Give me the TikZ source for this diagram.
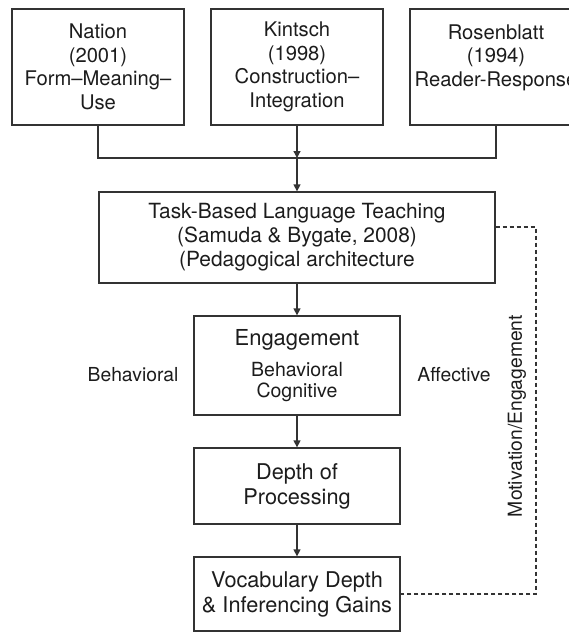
\documentclass[tikz,border=0pt]{standalone}
\usepackage{fontspec}
\setmainfont{TeX Gyre Heros}
\usetikzlibrary{arrows.meta}
\definecolor{figLine}{HTML}{333333}
\definecolor{figText}{HTML}{1c1c1c}
\begin{document}
\begin{tikzpicture}[x=1pt,y=-1pt]
    \pgfmathsetmacro{\bw}{172}
    \pgfmathsetmacro{\cw}{206}
    \tikzset{
        box/.style={draw=figLine,line width=1.3pt,text=figText,align=center,inner sep=0pt},
        arr/.style={draw=figLine,line width=1.3pt,-{Triangle[length=7pt,width=7pt]}},
        link/.style={draw=figLine,line width=1.3pt},
        dashlink/.style={draw=figLine,line width=1.1pt,dash pattern=on 4pt off 3pt},
        side/.style={text=figText,inner sep=0pt,font=\fontsize{19.3}{22}\selectfont}
    }
    \useasboundingbox (0,0) rectangle (569,633);
    \foreach \nm/\cx/\txt in {nation/98/{Nation\\(2001)\\Form–Meaning–\\Use},
        kintsch/297/{Kintsch\\(1998)\\Construction–\\Integration},
        rosen/496/{Rosenblatt\\(1994)\\Reader-Response\\\mbox{}}}{
        \node[box,minimum width=\bw pt,minimum height=116pt,font=\fontsize{20.2}{23.5}\selectfont] (\nm) at (\cx,67) {\txt};
    }
    \node[box,minimum width=396pt,minimum height=91pt,font=\fontsize{20.9}{24}\selectfont] (tblt) at (297,237.5)
        {Task-Based Language Teaching\\(Samuda \& Bygate, 2008)\\(Pedagogical architecture};
    \node[box,minimum width=\cw pt,minimum height=99pt,font=\fontsize{19.5}{21}\selectfont] (engage) at (297,365.5)
        {{\fontsize{22}{21}\selectfont Engagement}\\[10pt]Behavioral\\Cognitive};
    \node[box,minimum width=\cw pt,minimum height=76pt,font=\fontsize{21.7}{25}\selectfont] (depth) at (297,486)
        {Depth of\\Processing};
    \node[box,minimum width=\cw pt,minimum height=74pt,font=\fontsize{21.7}{25}\selectfont] (vocab) at (297,594)
        {Vocabulary Depth\\\& Inferencing Gains};
    \node[side] (behav) at (133,375) {Behavioral};
    \node[side] (affect) at (454,375) {Affective};
    \node[side,rotate=90] (motiv) at (517,416) {Motivation/Engagement};
    \coordinate (merge) at (297,158);
    \coordinate (loopTop) at (536,227);
    \draw[link] (nation.south) |- (merge) -| (rosen.south);
    \draw[arr] (kintsch) -- (merge);
    \draw[arr] (merge) -- (tblt);
    \draw[arr] (tblt) -- (engage);
    \draw[arr] (engage) -- (depth);
    \draw[arr] (depth) -- (vocab);
    \draw[dashlink] (tblt.east |- loopTop) -- (loopTop) |- (vocab.east);
\end{tikzpicture}
\end{document}
